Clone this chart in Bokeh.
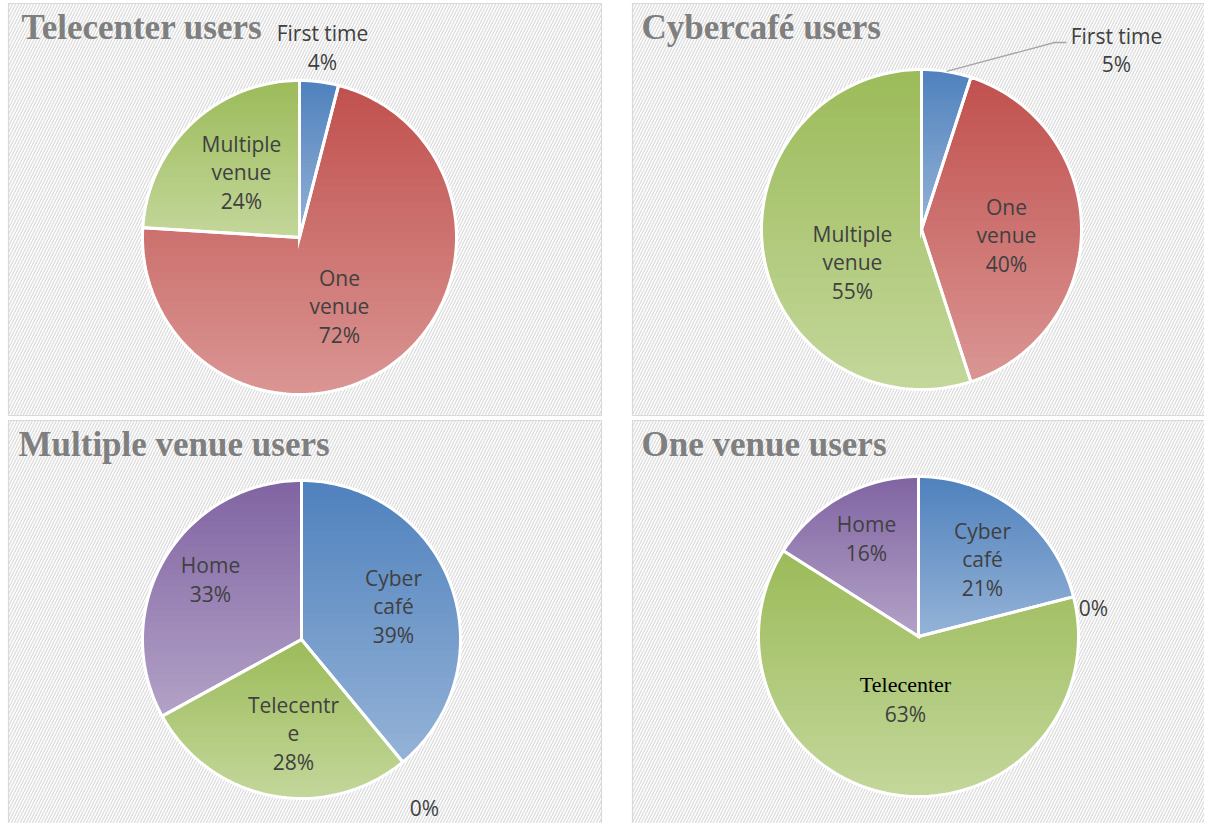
import math
from bokeh.plotting import figure
from bokeh.models import Range1d
from bokeh.core.properties import value
from bokeh.embed import file_html
from bokeh.resources import INLINE

# ---------------- data ----------------
tc_title = "Telecenter users"
tc_cats = ["First time", "One venue", "Multiple venue"]
tc_vals = [4, 72, 24]

cc_title = "Cybercafé users"
cc_cats = ["First time", "One venue", "Multiple venue"]
cc_vals = [5, 40, 55]

mv_title = "Multiple venue users"
mv_cats = ["Cyber café", "", "Telecentre", "Home"]
mv_vals = [39, 0, 28, 33]

ov_title = "One venue users"
ov_cats = ["Cyber café", "", "Telecenter", "Home"]
ov_vals = [21, 0, 63, 16]

# ---------------- style ----------------
GRAD = {
    "blue": ("#4F81BD", "#95B3D7"),
    "red": ("#C0504D", "#DA9694"),
    "green": ("#9BBB59", "#C4D79B"),
    "purple": ("#8064A2", "#B3A2C7"),
}
TITLE_FONT = "Liberation Serif"
LABEL_FONT = "Open Sans"
LABEL_COLOR = "#404040"

W, H = 1204, 823
p = figure(width=W, height=H, output_backend="svg", toolbar_location=None,
           x_range=Range1d(0, W), y_range=Range1d(H, 0),
           min_border=0, outline_line_color=None)
p.axis.visible = False
p.grid.visible = False
p.background_fill_color = "white"
p.border_fill_color = "white"

def hexrgb(h):
    h = h.lstrip("#")
    return tuple(int(h[i:i + 2], 16) for i in (0, 2, 4))

def mix(c0, c1, t):
    a, b = hexrgb(c0), hexrgb(c1)
    return "#%02x%02x%02x" % tuple(int(round(a[i] + (b[i] - a[i]) * t)) for i in range(3))

def clip(poly, yv, keep_above):
    out = []
    n = len(poly)
    def inside(pt):
        return pt[1] >= yv if keep_above else pt[1] <= yv
    for i in range(n):
        cur, prev = poly[i], poly[i - 1]
        ci, pi = inside(cur), inside(prev)
        if ci:
            if not pi:
                t = (yv - prev[1]) / (cur[1] - prev[1])
                out.append((prev[0] + t * (cur[0] - prev[0]), yv))
            out.append(cur)
        elif pi:
            t = (yv - prev[1]) / (cur[1] - prev[1])
            out.append((prev[0] + t * (cur[0] - prev[0]), yv))
    return out

def slice_poly(cx, cy, r, a0, a1):
    n = max(4, int(abs(a1 - a0) / 1.5))
    pts = [(cx, cy)]
    for k in range(n + 1):
        a = math.radians(a0 + (a1 - a0) * k / n)
        pts.append((cx + r * math.sin(a), cy - r * math.cos(a)))
    return pts

def panel(x0, y0, x1, y1):
    p.quad(left=[x0], right=[x1], top=[y0], bottom=[y1], fill_color="white",
           hatch_pattern="right_diagonal_line", hatch_color="#DCDCDC",
           hatch_weight=1.3, hatch_scale=6, line_color="#D9D9D9", line_width=1.2)

def title(x, y, t):
    p.text(x=[x], y=[y], text=[t], text_font=value(TITLE_FONT), text_font_style="bold",
           text_font_size="35px", text_color="#7F7F7F", text_baseline="middle",
           text_align="left")

def pie(cx, cy, r, vals, colors):
    total = float(sum(vals))
    start = 0.0
    angles = []
    xs_all, ys_all, cs_all = [], [], []
    outline_x, outline_y = [], []
    for v, col in zip(vals, colors):
        span = 360.0 * v / total
        a0, a1 = start, start + span
        angles.append((a0, a1))
        start = a1
        if v == 0:
            continue
        poly = slice_poly(cx, cy, r, a0, a1)
        ys = [q[1] for q in poly]
        ymin, ymax = min(ys), max(ys)
        nb = 40
        c0, c1 = GRAD[col]
        for b in range(nb):
            yb0 = ymin + (ymax - ymin) * b / nb
            yb1 = ymin + (ymax - ymin) * (b + 1) / nb + 1.0
            part = clip(clip(poly, yb0, True), yb1, False)
            if len(part) < 3:
                continue
            xs_all.append([q[0] for q in part])
            ys_all.append([q[1] for q in part])
            cs_all.append(mix(c0, c1, (b + 0.5) / nb))
        outline_x.append([q[0] for q in poly])
        outline_y.append([q[1] for q in poly])
    p.patches(xs=xs_all, ys=ys_all, fill_color=cs_all, line_color=None)
    p.patches(xs=outline_x, ys=outline_y, fill_alpha=0, line_color="white",
              line_width=3, line_join="miter")
    return angles

def label(x, y, t, color=LABEL_COLOR, font=LABEL_FONT, size="21px"):
    p.text(x=[x], y=[y], text=[t], text_font=value(font), text_font_size=size,
           text_color=color, text_align="center", text_baseline="middle",
           text_line_height=1.02)

def wrap(cat, width):
    out = []
    for w in cat.split(" "):
        while len(w) > width:
            out.append(w[:width])
            w = w[width:]
        out.append(w)
    return out

def lab_text(cat, v, width=9):
    lines = wrap(cat, width) if cat else []
    return "\n".join(lines + ["%d%%" % v])

# ---------------- panels ----------------
panel(8, 3, 601, 415)
panel(632, 3, 1219, 415)
panel(8, 420, 601, 838)
panel(632, 420, 1219, 838)

title(21, 27, tc_title)
title(641, 27, cc_title)
title(18, 444, mv_title)
title(641, 444, ov_title)

# Telecenter users
cols3 = ["blue", "red", "green"]
pie(299, 237, 157, tc_vals, cols3)
label(322, 47, tc_cats[0] + "\n" + "%d%%" % tc_vals[0])
label(339, 306, lab_text(tc_cats[1], tc_vals[1]))
label(241, 172, lab_text(tc_cats[2], tc_vals[2]))

# Cybercafé users
ang = pie(921, 229, 160, cc_vals, cols3)
mid = math.radians((ang[0][0] + ang[0][1]) / 2)
sx, sy = 921 + 160 * math.sin(mid), 229 - 160 * math.cos(mid)
p.line(x=[sx, 1054, 1066], y=[sy, 42, 42], line_color="#A6A6A6", line_width=1.3)
label(1116, 49.5, cc_cats[0] + "\n" + "%d%%" % cc_vals[0])
label(1006, 235, lab_text(cc_cats[1], cc_vals[1]))
label(852, 262, lab_text(cc_cats[2], cc_vals[2]))

# Multiple venue users
cols4 = ["blue", "red", "green", "purple"]
pie(301, 639, 159, mv_vals, cols4)
label(393, 606, lab_text(mv_cats[0], mv_vals[0]))
label(424, 807, lab_text(mv_cats[1], mv_vals[1]))
label(293, 733, lab_text(mv_cats[2], mv_vals[2]))
label(210, 579, lab_text(mv_cats[3], mv_vals[3]))

# One venue users
pie(918, 636, 160, ov_vals, cols4)
label(982, 559, lab_text(ov_cats[0], ov_vals[0]))
label(1093, 607, lab_text(ov_cats[1], ov_vals[1]))
label(905, 684, ov_cats[2], color="#000000", font="Liberation Serif", size="22px")
label(905, 713, "%d%%" % ov_vals[2])
label(866, 538, lab_text(ov_cats[3], ov_vals[3]))

open("out.html", "w").write(file_html(p, INLINE))
